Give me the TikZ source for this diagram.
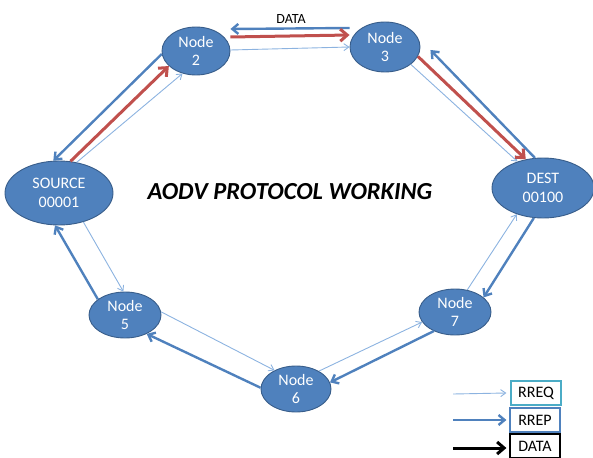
\documentclass[tikz,border=0pt]{standalone}
\usepackage{fontspec}
\setmainfont{Carlito}
\usetikzlibrary{arrows.meta,shapes.geometric}
\definecolor{nodeblue}{HTML}{4F81BD}
\definecolor{nodeedge}{HTML}{385D8A}
\definecolor{reqblue}{HTML}{8CB3E0}
\definecolor{repblue}{HTML}{4F81BD}
\definecolor{datared}{HTML}{C0504D}
\definecolor{legaqua}{HTML}{4BACC6}
\tikzset{
	aodv/.style={ellipse, draw=nodeedge, line width=0.9pt, fill=nodeblue, text=white,
		inner sep=0pt, align=center, font=\fontsize{16}{18.5}\selectfont},
	rreq/.style={draw=reqblue, line width=0.9pt, -{Straight Barb[length=5pt,width=7pt]}},
	rrep/.style={draw=repblue, line width=2.4pt, -{Straight Barb[length=6pt,width=10pt]}},
	datapath/.style={draw=datared, line width=3pt, -{Straight Barb[length=7pt,width=12pt]}},
	legbox/.style={draw, line width=1.2pt, fill=white, minimum width=50pt, minimum height=24pt,
		inner sep=0pt, font=\fontsize{16}{18}\selectfont},
}

\begin{document}
\begin{tikzpicture}[x=1pt,y=-1pt]
	\useasboundingbox (0,0) rectangle (593,457);
	\node[aodv, minimum width=108pt, minimum height=64pt] (src) at (59,193) {SOURCE\\00001};
	\node[aodv, minimum width=68pt, minimum height=48pt] (n2) at (196,51) {Node\\2};
	\node[aodv, minimum width=70pt, minimum height=50pt] (n3) at (385,47) {Node\\3};
	\node[aodv, minimum width=102pt, minimum height=60pt] (dst) at (543,188) {DEST\\00100};
	\node[aodv, minimum width=72pt, minimum height=46pt] (n5) at (125,315) {Node\\5};
	\node[aodv, minimum width=72pt, minimum height=46pt] (n7) at (455,312) {Node\\7};
	\node[aodv, minimum width=70pt, minimum height=46pt] (n6) at (296,389) {Node\\6};
	\node[font=\fontsize{24.5}{28}\selectfont\bfseries\itshape] (title) at (290,192) {AODV PROTOCOL WORKING};
	\node[font=\fontsize{14}{16}\selectfont] (datalbl) at (291,19) {DATA};
	%
	\draw[rrep] (n2.185) to (src.100);
	\draw[datapath] (src.70) to (n2.209);
	\draw[rreq] (src.60) to (n2.239);
	\draw[rrep] ([yshift=19pt]n3.west) to ([yshift=22pt]n2.east);
	\draw[datapath] ([yshift=14pt]n2.east) to ([yshift=12pt]n3.west);
	\draw[rreq] ([yshift=1pt]n2.east) to (n3.west);
	\draw[rreq] (n3.326) to (dst.134);
	\draw[datapath] (n3.344) to (dst.121);
	\draw[rrep] (dst.105) to ([xshift=10pt,yshift=-3pt]n3.east);
	\draw[rrep] (dst.253) to (n7.27);
	\draw[rreq] (n7.61) to (dst.225);
	\draw[rreq] (n6.38) to (n7.197);
	\draw[rrep] (n7.222) to (n6.11);
	\draw[rreq] (n5.5) to (n6.139);
	\draw[rrep] (n6.178) to (n5.319);
	\draw[rrep] (n5.150) to (src.263);
	\draw[rreq] (src.310) to (n5.94);
	%
	\node[legbox, draw=legaqua] (rreqbox) at (536,393) {RREQ};
	\node[legbox, draw=repblue] (rrepbox) at (535,420) {RREP};
	\node[legbox, draw=black] (databox) at (535,446) {DATA};
	\coordinate (rreqtail) at (453,394);
	\coordinate (rreptail) at (453,420);
	\coordinate (datatail) at (453,448);
	\draw[rreq] (rreqtail) to ([xshift=-4pt]rreqbox.west);
	\draw[rrep] (rreptail) to ([xshift=-3pt]rrepbox.west);
	\draw[datapath, draw=black] (datatail) to ([xshift=-3pt,yshift=-2pt]databox.west);
\end{tikzpicture}
\end{document}
